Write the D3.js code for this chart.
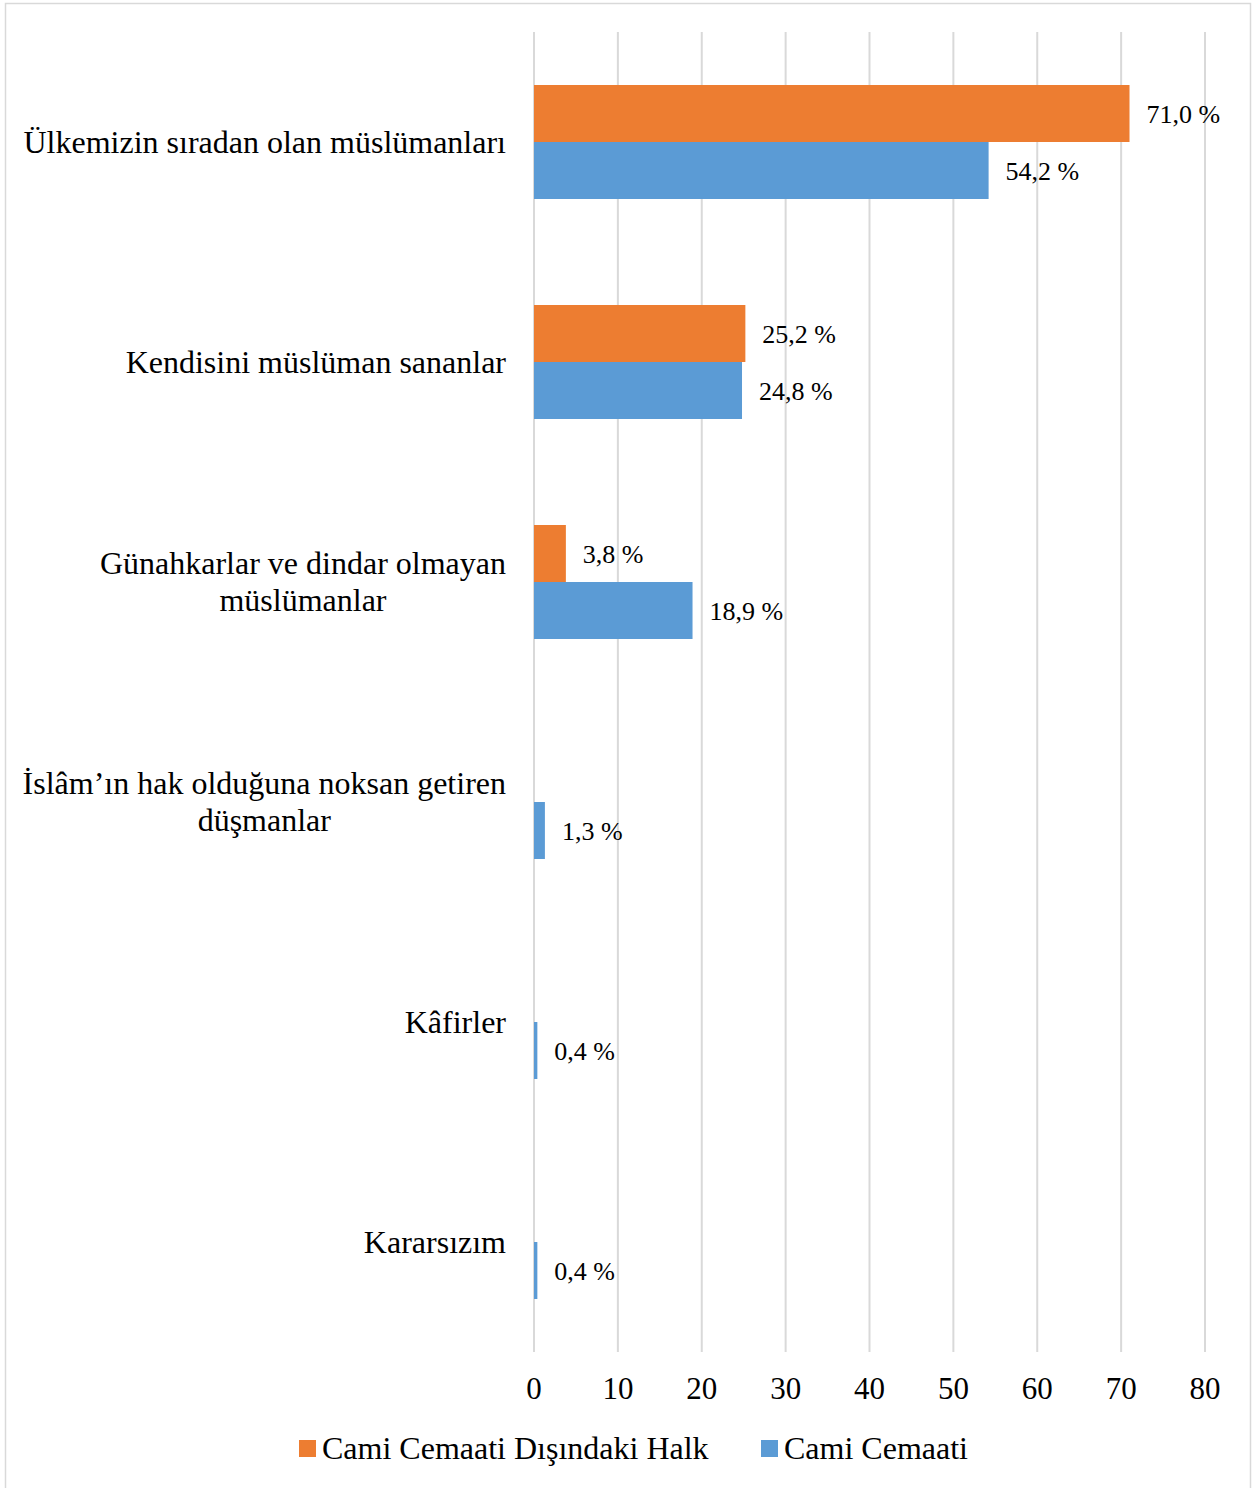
<!DOCTYPE html>
<html><head><meta charset="utf-8">
<script src="https://cdn.jsdelivr.net/npm/d3@7"></script>
<style>body{margin:0;background:#fff}svg{display:block}</style>
</head><body>
<script>
const categories = [
  ["Ülkemizin sıradan olan müslümanları"],
  ["Kendisini müslüman sananlar"],
  ["Günahkarlar ve dindar olmayan", "müslümanlar"],
  ["İslâm’ın hak olduğuna noksan getiren", "düşmanlar"],
  ["Kâfirler"],
  ["Kararsızım"]
];
const seriesNames = ["Cami Cemaati Dışındaki Halk", "Cami Cemaati"];
const outsideValues = [71.0, 25.2, 3.8, null, null, null];
const congregationValues = [54.2, 24.8, 18.9, 1.3, 0.4, 0.4];
const xTicks = [0, 10, 20, 30, 40, 50, 60, 70, 80];
const colors = ["#ED7D31", "#5B9BD5"];

const W = 1256, H = 1488;
const font = "'Liberation Serif','Times New Roman',serif";
const svg = d3.select("body").append("svg").attr("width", W).attr("height", H);

svg.append("rect").attr("x", 5.5).attr("y", 3.5).attr("width", 1245).attr("height", 1490)
  .attr("fill", "#fff").attr("stroke", "#d9d9d9").attr("stroke-width", 1.5);

const x = d3.scaleLinear().domain([0, 80]).range([534, 1205]);
const catIdx = d3.range(categories.length);
const y0 = d3.scaleBand().domain(catIdx).range([32, 1352]).paddingInner(106/220).paddingOuter(53/220);
const y1 = d3.scaleBand().domain([0, 1]).range([0, y0.bandwidth()]);

// grid
svg.append("g").selectAll("line").data(xTicks).join("line")
  .attr("x1", d => x(d)).attr("x2", d => x(d))
  .attr("y1", 32).attr("y2", 1352)
  .attr("stroke", "#d9d9d9").attr("stroke-width", 2);

// x tick labels
svg.append("g").selectAll("text").data(xTicks).join("text")
  .attr("x", d => x(d)).attr("y", 1399)
  .attr("text-anchor", "middle").attr("font-family", font).attr("font-size", 31)
  .attr("fill", "#000").text(d => d);

const series = [outsideValues, congregationValues];
series.forEach((vals, s) => {
  const g = svg.append("g");
  const data = vals.map((v, i) => ({v, i})).filter(d => d.v !== null);
  g.selectAll("rect").data(data).join("rect")
    .attr("x", x(0)).attr("y", d => y0(d.i) + y1(s))
    .attr("width", d => x(d.v) - x(0)).attr("height", y1.bandwidth())
    .attr("fill", colors[s]);
  g.selectAll("text").data(data).join("text")
    .attr("x", d => x(d.v) + 17).attr("y", d => y0(d.i) + y1(s) + y1.bandwidth()/2)
    .attr("dy", "0.35em").attr("font-family", font).attr("font-size", 26)
    .attr("fill", "#000").text(d => d3.format(".1f")(d.v).replace(".", ",") + " %");
});

// category labels
const labG = svg.append("g");
categories.forEach((lines, i) => {
  const cy = y0(i) + y0.bandwidth()/2;
  const t = labG.append("text").attr("font-family", font).attr("font-size", 32).attr("fill", "#000");
  const lh = 37;
  lines.forEach((ln, k) => {
    t.append("tspan").attr("y", cy + (k - (lines.length-1)/2) * lh).attr("dy", "0.33em").text(ln);
  });
  const tspans = t.selectAll("tspan").nodes();
  const widths = tspans.map(n => n.getComputedTextLength());
  const maxW = d3.max(widths);
  const cx = 506 - maxW/2;
  t.selectAll("tspan").attr("x", cx).attr("text-anchor", "middle");
});

// legend
const legX = [299, 761];
seriesNames.forEach((name, s) => {
  svg.append("rect").attr("x", legX[s]).attr("y", 1440).attr("width", 17).attr("height", 17).attr("fill", colors[s]);
  svg.append("text").attr("x", legX[s] + 23).attr("y", 1459)
    .attr("font-family", font).attr("font-size", 32).attr("fill", "#000").text(name);
});
</script>
</body></html>
